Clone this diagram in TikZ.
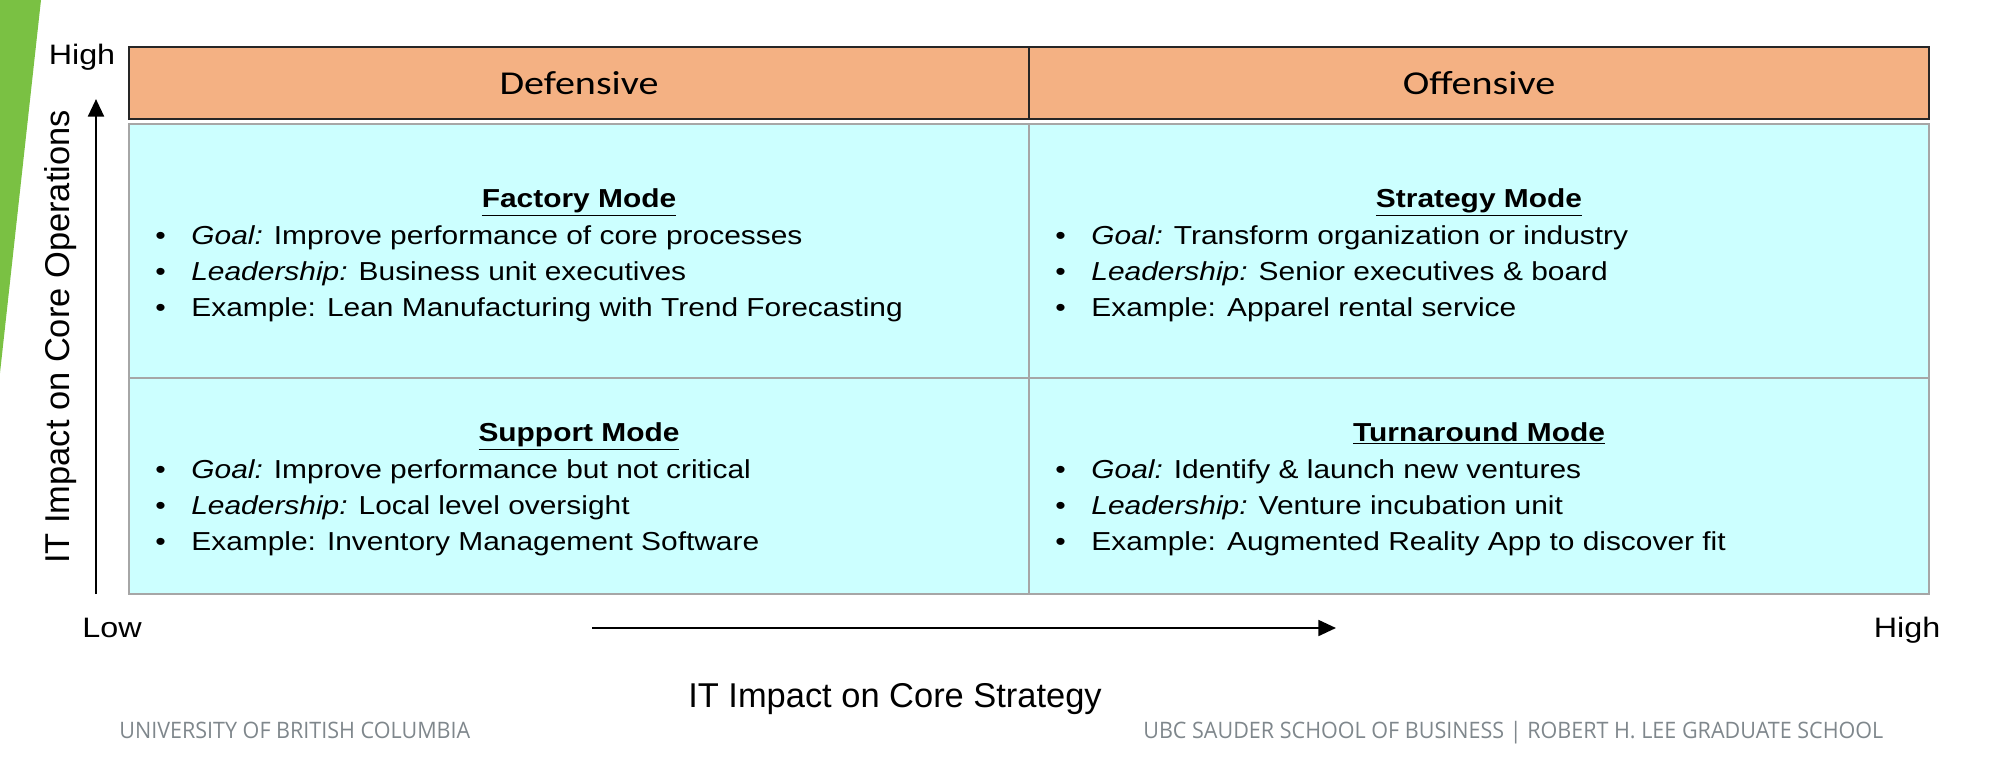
\documentclass[tikz,border=0pt]{standalone}
\usepackage{fontspec}
\setmainfont[FakeStretch=1.15]{Liberation Sans}
\newfontfamily\axisfont{Liberation Sans}
\newfontfamily\headfont[FakeStretch=1.2]{Carlito}
\newfontfamily\footfont[FakeStretch=0.95]{Open Sans}
\usetikzlibrary{arrows.meta}
\definecolor{HeadOrange}{HTML}{F4B183}
\definecolor{CellCyan}{HTML}{CCFFFF}
\definecolor{CellBorder}{HTML}{A6A6A6}
\definecolor{SlideGreen}{HTML}{7AC143}
\definecolor{FootGray}{HTML}{7F878C}
\newcommand{\bul}{\makebox[20.5pt][l]{•}}

\begin{document}
\begin{tikzpicture}[x=0.02cm,y=-0.02cm,
    headcell/.style={draw=black!85,line width=0.9pt,fill=HeadOrange,minimum width=18cm,
      minimum height=1.44cm,inner sep=0pt,font=\headfont\fontsize{19}{22}\selectfont},
    modecell/.style={draw=CellBorder,line width=1pt,fill=CellCyan,minimum width=18cm,inner sep=0pt},
    title/.style={anchor=base,inner sep=0pt,font=\bfseries\fontsize{14.8}{18}\selectfont},
    item/.style={anchor=base west,inner sep=0pt,font=\fontsize{14.8}{18}\selectfont},
    tick/.style={anchor=base,inner sep=0pt,font=\fontsize{16}{19}\selectfont},
    axislabel/.style={anchor=base,inner sep=0pt,font=\axisfont\fontsize{19.6}{23}\selectfont},
    foot/.style={anchor=base west,inner sep=0pt,text=FootGray,font=\footfont\fontsize{12.9}{15}\selectfont},
    axis/.style={line width=1.5pt,-{Triangle[length=10pt,width=9pt]}}]
    \useasboundingbox (0,0) rectangle (2002,778);
    \fill[SlideGreen] (0,0) -- (41,0) -- (0,373) -- cycle;

    % quadrants
    \node[modecell,minimum height=5.08cm] (factory) at (579,251) {};
    \node[modecell,minimum height=5.08cm] (strategy) at (1479,251) {};
    \node[modecell,minimum height=4.32cm] (support) at (579,486) {};
    \node[modecell,minimum height=4.32cm] (turnaround) at (1479,486) {};
    \node[headcell] (defensive) at (579,83) {Defensive};
    \node[headcell] (offensive) at (1479,83) {Offensive};

    \node[title] (factorytitle) at (579,207) {\underline{Factory Mode}};
    \node[item] (factory1) at (155,244) {\bul\textit{Goal:} Improve performance of core processes};
    \node[item] (factory2) at (155,280) {\bul\textit{Leadership:} Business unit executives};
    \node[item] (factory3) at (155,316) {\bul Example: Lean Manufacturing with Trend Forecasting};

    \node[title] (strategytitle) at (1479,207) {\underline{Strategy Mode}};
    \node[item] (strategy1) at (1055,244) {\bul\textit{Goal:} Transform organization or industry};
    \node[item] (strategy2) at (1055,280) {\bul\textit{Leadership:} Senior executives \& board};
    \node[item] (strategy3) at (1055,316) {\bul Example: Apparel rental service};

    \node[title] (supporttitle) at (579,441) {\underline{Support Mode}};
    \node[item] (support1) at (155,478) {\bul\textit{Goal:} Improve performance but not critical};
    \node[item] (support2) at (155,514) {\bul\textit{Leadership:} Local level oversight};
    \node[item] (support3) at (155,550) {\bul Example: Inventory Management Software};

    \node[title] (turnaroundtitle) at (1479,441) {\underline{Turnaround Mode}};
    \node[item] (turnaround1) at (1055,478) {\bul\textit{Goal:} Identify \& launch new ventures};
    \node[item] (turnaround2) at (1055,514) {\bul\textit{Leadership:} Venture incubation unit};
    \node[item] (turnaround3) at (1055,550) {\bul Example: Augmented Reality App to discover fit};

    % axes
    \coordinate (ytail) at (96,594);
    \coordinate (yhead) at (96,99);
    \coordinate (xtail) at (592,628);
    \coordinate (xhead) at (1336,628);
    \draw[axis] (ytail) -- (yhead);
    \draw[axis,line width=1.3pt] (xtail) -- (xhead);
    \node[tick] (yhigh) at (82,64) {High};
    \node[tick] (low) at (112,637) {Low};
    \node[tick] (xhigh) at (1907,637) {High};
    \node[axislabel,rotate=90] (ylabel) at (70,337) {IT Impact on Core Operations};
    \node[axislabel] (xlabel) at (895,707) {IT Impact on Core Strategy};

    \node[foot] (ubc) at (119,738) {UNIVERSITY OF BRITISH COLUMBIA};
    \node[foot] (sauder) at (1143,738) {UBC SAUDER SCHOOL OF BUSINESS | ROBERT H. LEE GRADUATE SCHOOL};
\end{tikzpicture}
\end{document}
